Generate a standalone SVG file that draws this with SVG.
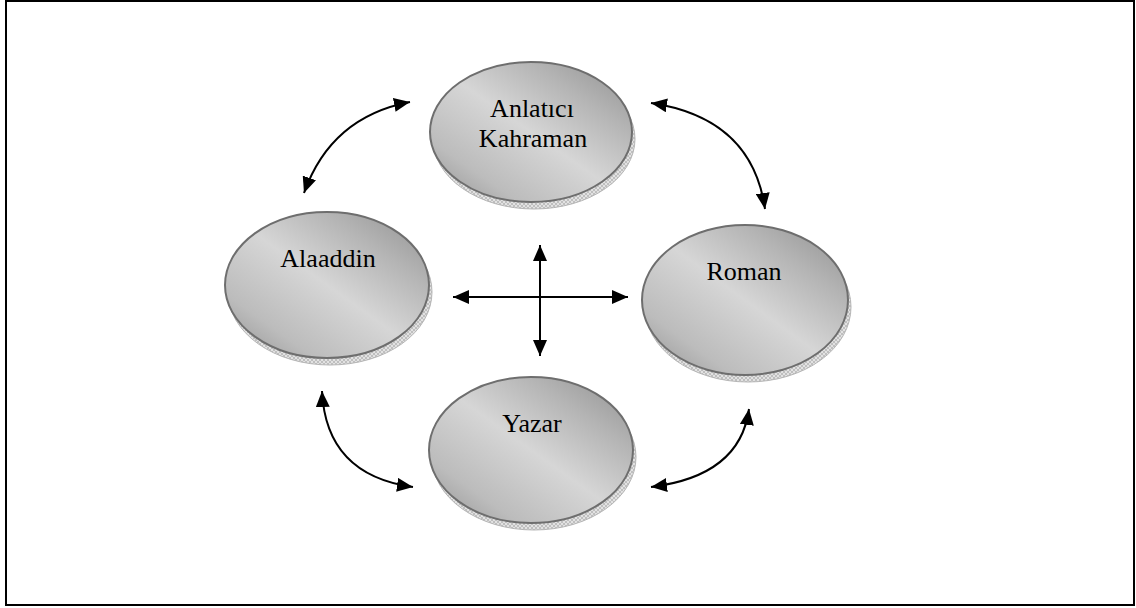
<svg xmlns="http://www.w3.org/2000/svg" width="1136" height="608" viewBox="0 0 1136 608">
<style>
.node{fill:url(#g);stroke:#6e6e6e;stroke-width:2}
.sh{fill:url(#hatch);stroke:#b5b5b5;stroke-width:1}
.lbl{font-family:"Liberation Serif","Times New Roman",serif;font-size:26px;fill:#000;text-anchor:middle}
.con{fill:none;stroke:#000;stroke-width:2;marker-start:url(#ah);marker-end:url(#ah)}
</style>
<defs>
<linearGradient id="g" x1="1" y1="0" x2="0" y2="1">
<stop offset="0" stop-color="#8e8e8e"/>
<stop offset="0.25" stop-color="#b4b4b4"/>
<stop offset="0.5" stop-color="#d6d6d6"/>
<stop offset="0.78" stop-color="#bcbcbc"/>
<stop offset="1" stop-color="#909090"/>
</linearGradient>
<pattern id="hatch" width="4" height="4" patternUnits="userSpaceOnUse">
<rect width="4" height="4" fill="#e2e2e2"/>
<path d="M0,0 L4,4 M4,0 L0,4" stroke="#b0b0b0" stroke-width="0.7"/>
</pattern>
<marker id="ah" markerUnits="userSpaceOnUse" markerWidth="16" markerHeight="14" refX="16" refY="7" orient="auto-start-reverse">
<path d="M0,0 L16,7 L0,14 z" fill="#000"/>
</marker>
</defs>
<rect x="6" y="1" width="1128" height="604" fill="#fff" stroke="#000" stroke-width="2"/>
<g id="node-anlatici">
<ellipse class="sh" cx="534" cy="139" rx="101" ry="70"/>
<ellipse class="node" cx="531" cy="132" rx="101" ry="70"/>
<text class="lbl" x="532" y="117">Anlatıcı</text>
<text class="lbl" x="533" y="147">Kahraman</text>
</g>
<g id="node-alaaddin">
<ellipse class="sh" cx="330" cy="292" rx="102" ry="73"/>
<ellipse class="node" cx="327" cy="285" rx="102" ry="73"/>
<text class="lbl" x="328" y="267">Alaaddin</text>
</g>
<g id="node-roman">
<ellipse class="sh" cx="748" cy="307" rx="103" ry="75"/>
<ellipse class="node" cx="745" cy="300" rx="103" ry="75"/>
<text class="lbl" x="744" y="280">Roman</text>
</g>
<g id="node-yazar">
<ellipse class="sh" cx="534" cy="457" rx="102" ry="73"/>
<ellipse class="node" cx="531" cy="450" rx="102" ry="73"/>
<text class="lbl" x="532" y="432">Yazar</text>
</g>
<g id="connectors">
<path class="con" d="M304,193 Q331,117 410,102"/>
<path class="con" d="M651,103 Q752,118 765,209"/>
<path class="con" d="M749,409 Q740,476 651,487"/>
<path class="con" d="M322,391 Q326,475 413,487"/>
<path class="con" d="M453,297 L628,297"/>
<path class="con" d="M540,245 L540,356"/>
</g>
</svg>
